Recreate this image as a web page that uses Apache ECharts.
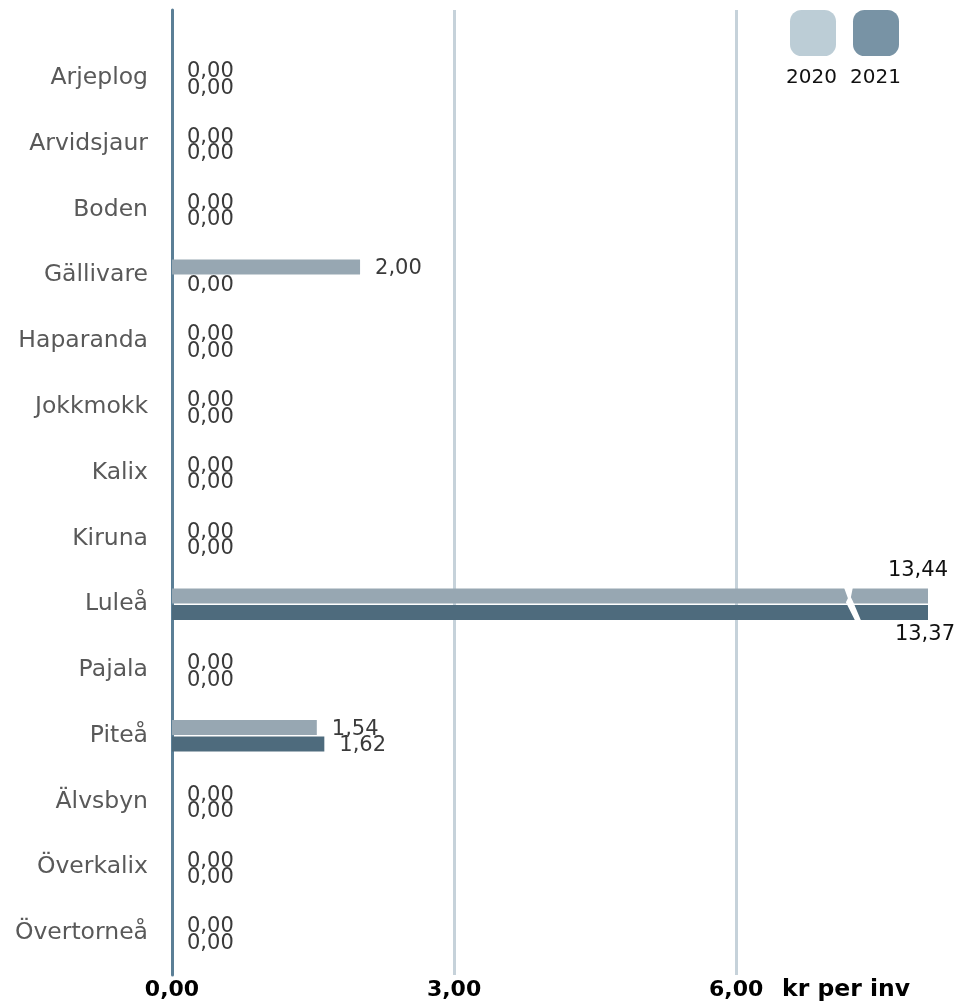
<!DOCTYPE html>
<html>
<head>
<meta charset="utf-8">
<script src="https://cdn.jsdelivr.net/npm/echarts@6/dist/echarts.min.js"></script>
<style>
  html, body { margin: 0; padding: 0; background: #fff; }
  #chart { width: 959px; height: 1002px; }
</style>
</head>
<body>
<div id="chart"></div>
<script>
// Municipalities in Norrbotten, cost in kronor per inhabitant
const municipalities = ['Arjeplog', 'Arvidsjaur', 'Boden', 'Gällivare', 'Haparanda', 'Jokkmokk', 'Kalix',
  'Kiruna', 'Luleå', 'Pajala', 'Piteå', 'Älvsbyn', 'Överkalix', 'Övertorneå'];
const values2020 = [0, 0, 0, 2.00, 0, 0, 0, 0, 13.44, 0, 1.54, 0, 0, 0];
const values2021 = [0, 0, 0, 0, 0, 0, 0, 0, 13.37, 0, 1.62, 0, 0, 0];
const seriesNames = ['2020', '2021'];
const unitLabel = 'kr per inv';

// Visible extent of the value axis; longer bars are cut with a break mark
const X_MAX = 8.04;
const X_STEP = 3;
const BREAK_AT = 7.22;

const FONT = "'DejaVu Sans', Verdana, sans-serif";
const fmt = v => v.toFixed(2).replace('.', ',');

const barColors = ['#97a7b2', '#4e6b7d'];
const legendColors = ['#bccdd6', '#7893a5'];

function buildData(values, above) {
  return values.map(v => {
    if (v <= X_MAX) return v;
    return {
      value: v,
      label: above
        ? { position: ['100%', 0], align: 'right', verticalAlign: 'bottom', offset: [20, -7], color: '#111' }
        : { position: ['100%', '100%'], align: 'right', verticalAlign: 'top', offset: [27, 4], color: '#111' }
    };
  });
}

const breakData = [];
municipalities.forEach((m, i) => {
  if (Math.max(values2020[i], values2021[i]) > X_MAX) breakData.push([BREAK_AT, i]);
});

const valueLabel = {
  show: true,
  position: 'right',
  distance: 15,
  offset: [0, 2],
  fontFamily: FONT,
  fontSize: 21,
  color: '#3a3a3a',
  formatter: p => fmt(p.value)
};

const chart = echarts.init(document.getElementById('chart'), null, { renderer: 'canvas' });

chart.setOption({
  animation: false,
  backgroundColor: '#fff',
  textStyle: { fontFamily: FONT },
  legend: {
    left: 785,
    top: 5,
    itemWidth: 46,
    itemHeight: 46,
    itemGap: 17,
    icon: 'roundRect',
    selectedMode: false,
    formatter: () => '',
    data: seriesNames.map((n, i) => ({ name: n, itemStyle: { color: legendColors[i] } }))
  },
  graphic: seriesNames.map((n, i) => ({
    type: 'text',
    left: 786 + i * 64,
    top: 68,
    style: { text: n, font: '20px ' + FONT, fill: '#111' }
  })),
  grid: [
    // frame for the reference lines, taller than the bar area
    { left: 172, right: 31, top: 10, bottom: 27, outerBoundsMode: 'none' },
    // bar area
    { left: 172, right: 31, top: 45, bottom: 36, outerBoundsMode: 'none' }
  ],
  xAxis: [
    {
      type: 'value', gridIndex: 0, min: 0, max: X_MAX, interval: X_STEP,
      axisLine: { show: false },
      axisTick: { show: false },
      splitLine: { show: true, showMinLine: false, showMaxLine: false, lineStyle: { color: '#c6d2da', width: 3 } },
      axisLabel: {
        show: true, showMaxLabel: false, margin: 4,
        fontFamily: FONT, fontSize: 22, fontWeight: 'bold', color: '#000',
        formatter: v => fmt(v)
      },
      name: unitLabel,
      nameLocation: 'end',
      nameGap: -146,
      nameTextStyle: { fontFamily: FONT, fontSize: 23.5, fontWeight: 'bold', color: '#000', verticalAlign: 'top', lineHeight: 30 }
    },
    {
      type: 'value', gridIndex: 1, min: 0, max: X_MAX, interval: X_STEP,
      show: false
    }
  ],
  yAxis: [
    {
      type: 'category', gridIndex: 0, data: [''],
      axisLine: { show: true, lineStyle: { color: '#5b7f96', width: 3 } },
      axisTick: { show: false },
      axisLabel: { show: false },
      splitLine: { show: false }
    },
    {
      type: 'category', gridIndex: 1, data: municipalities, inverse: true,
      axisLine: { show: false },
      axisTick: { show: false },
      splitLine: { show: false },
      axisLabel: { margin: 24, fontFamily: FONT, fontSize: 23.5, color: '#595959' }
    }
  ],
  series: [
    {
      name: seriesNames[0], type: 'bar', xAxisIndex: 1, yAxisIndex: 1,
      data: buildData(values2020, true), barWidth: 15, barGap: '10%', clip: true,
      itemStyle: { color: barColors[0] }, label: valueLabel
    },
    {
      name: seriesNames[1], type: 'bar', xAxisIndex: 1, yAxisIndex: 1,
      data: buildData(values2021, false), barWidth: 15, barGap: '10%', clip: true,
      itemStyle: { color: barColors[1] }, label: valueLabel
    },
    {
      // break mark across bars that run past the visible extent
      name: 'break', type: 'custom', xAxisIndex: 1, yAxisIndex: 1, z: 5,
      encode: { x: 0, y: 1 },
      data: breakData,
      renderItem: (params, api) => {
        const c = api.coord([api.value(0), api.value(1)]);
        const pts = [[-7, -17], [2, -17], [0, -7], [2, -3], [10, 16], [4, 16], [-5, -2], [-3, -6]]
          .map(([dx, dy]) => [c[0] + dx, c[1] + dy]);
        return { type: 'polygon', shape: { points: pts }, style: { fill: '#fff' } };
      }
    }
  ]
});
</script>
</body>
</html>
